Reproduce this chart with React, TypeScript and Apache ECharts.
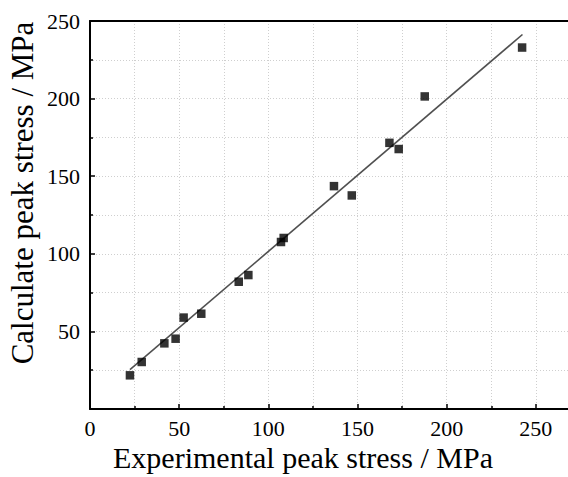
import React, { useEffect, useRef } from "react";
import * as echarts from "echarts";

const expStress = [22.4, 29.0, 41.7, 48.0, 52.5, 62.4, 83.4, 88.8, 107.1, 108.6, 136.8, 146.8, 167.9, 173.1, 187.7, 242.3];
const calcStress = [21.7, 30.3, 42.3, 45.3, 58.9, 61.4, 82.0, 86.3, 107.6, 110.2, 143.6, 137.6, 171.5, 167.5, 201.4, 232.9];
const fitX = [22.4, 242.5];
const fitY = [25.4, 241.3];
const xTitle = "Experimental peak stress / MPa";
const yTitle = "Calculate peak stress / MPa";

const FONT = "'Liberation Serif', 'Times New Roman', serif";

export default function App() {
  const ref = useRef<HTMLDivElement>(null);
  useEffect(() => {
    if (!ref.current) return;
    const chart = echarts.init(ref.current, null, { renderer: "svg", width: 640, height: 477 });
    const gridLine = { show: true, lineStyle: { color: "#cfcfcf", type: [1, 2], width: 1 } };
    chart.setOption({
      animation: false,
      backgroundColor: "#ffffff",
      grid: { left: 90, top: 21, height: 388, width: 535 },
      xAxis: [
        {
          type: "value",
          min: 0,
          max: 300,
          interval: 50,
          position: "bottom",
          axisLine: { show: true, onZero: false, lineStyle: { color: "#000", width: 2 } },
          axisTick: { show: true, inside: true, length: 5, lineStyle: { color: "#000", width: 1.5 } },
          minorTick: { show: true, splitNumber: 2, length: 3, lineStyle: { color: "#000", width: 1.5 } },
          splitLine: gridLine,
          minorSplitLine: gridLine,
          axisLabel: { color: "#000", fontFamily: FONT, fontSize: 22, margin: 8, showMaxLabel: false },
        },
        {
          type: "value",
          min: 0,
          max: 300,
          position: "top",
          axisLine: { show: true, onZero: false, lineStyle: { color: "#000", width: 2 } },
          axisTick: { show: false },
          axisLabel: { show: false },
          splitLine: { show: false },
        },
      ],
      yAxis: {
        type: "value",
        min: 0,
        max: 250,
        interval: 50,
        axisLine: { show: true, onZero: false, lineStyle: { color: "#000", width: 2 } },
        axisTick: { show: true, inside: true, length: 5, lineStyle: { color: "#000", width: 1.5 } },
        minorTick: { show: true, splitNumber: 2, length: 3, lineStyle: { color: "#000", width: 1.5 } },
        splitLine: gridLine,
        minorSplitLine: gridLine,
        axisLabel: { color: "#000", fontFamily: FONT, fontSize: 22, margin: 10, showMinLabel: false },
      },
      series: [
        {
          type: "line",
          data: fitX.map((x, i) => [x, fitY[i]]),
          symbol: "none",
          lineStyle: { color: "#505050", width: 1.6 },
          z: 3,
        },
        {
          type: "scatter",
          data: expStress.map((x, i) => [x, calcStress[i]]),
          symbol: "rect",
          symbolSize: 8.5,
          itemStyle: { color: "#000" },
          z: 4,
        },
      ],
      graphic: [
        {
          type: "text",
          x: 303,
          y: 457,
          style: {
            text: xTitle,
            fontFamily: FONT,
            fontSize: 30,
            fill: "#000",
            align: "center",
            verticalAlign: "middle",
          },
        },
        {
          type: "text",
          x: 22,
          y: 193,
          rotation: Math.PI / 2,
          style: {
            text: yTitle,
            fontFamily: FONT,
            fontSize: 31,
            fill: "#000",
            align: "center",
            verticalAlign: "middle",
          },
        },
      ],
    });
    return () => chart.dispose();
  }, []);
  return (
    <div style={{ position: "fixed", left: 0, top: 0, width: 568, height: 477, overflow: "hidden", background: "#fff" }}>
      <div ref={ref} style={{ width: 640, height: 477 }} />
    </div>
  );
}
